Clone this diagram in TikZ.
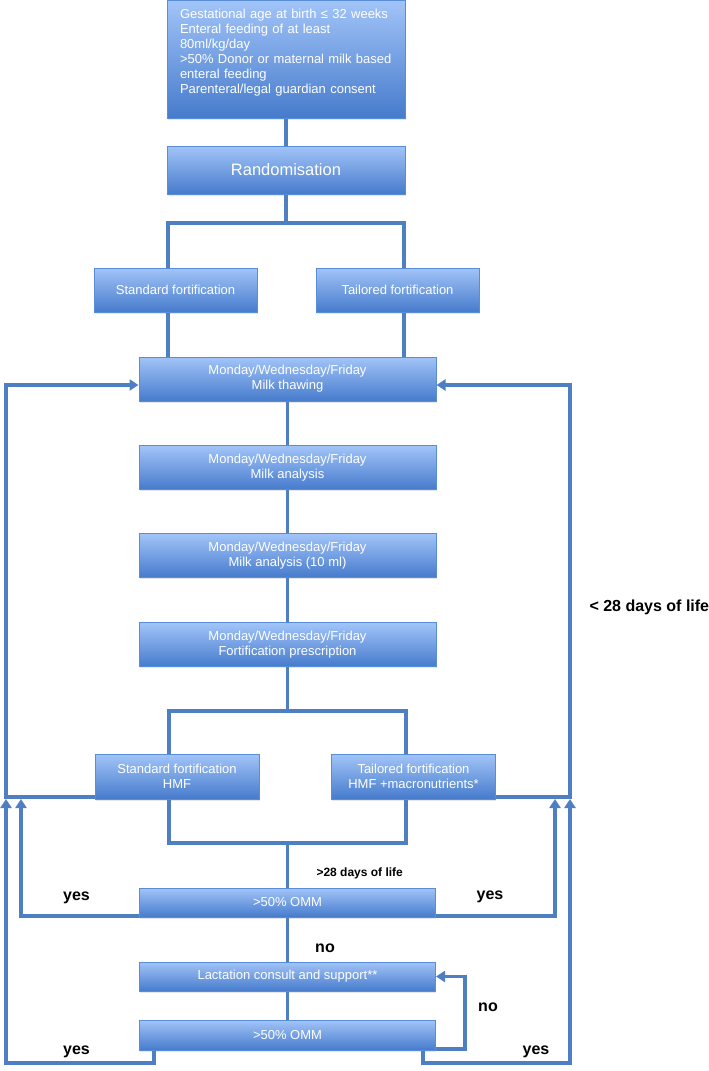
\documentclass[tikz,border=0pt]{standalone}
\usepackage{fontspec}
\setmainfont{Liberation Sans}
\usetikzlibrary{arrows.meta,shadows}
\definecolor{boxtop}{HTML}{A2C4F8}
\definecolor{boxbot}{HTML}{467BCC}
\definecolor{boxline}{HTML}{5A8DD8}
\definecolor{flow}{HTML}{4F7FC3}

\begin{document}
\begin{tikzpicture}[x=1pt,y=-1pt,
    box/.style={draw=boxline,line width=1pt,top color=boxtop,bottom color=boxbot,
        text=white,font=\fontsize{13}{15}\selectfont,align=center,inner sep=0pt,
        drop shadow={opacity=0.2,shadow xshift=0.8pt,shadow yshift=-1.5pt}},
    link/.style={draw=flow,line width=3.4pt},
    arrow/.style={link,-{Triangle[length=9pt,width=11pt]}},
    tag/.style={font=\bfseries\fontsize{16}{18}\selectfont}]

\useasboundingbox (0,0) rectangle (709,1071);

%========================
% Inclusion and randomisation
%========================

\node[box,minimum width=238pt,minimum height=118pt,text width=212pt,align=left] (incl) at (286,59)
{Gestational age at birth ≤ 32 weeks\\
Enteral feeding of at least\\
80ml/kg/day\\
>50\% Donor or maternal milk based\\
enteral feeding\\
Parenteral/legal guardian consent\\[0pt]\hbox{}};

\node[box,minimum width=238pt,minimum height=48pt,font=\fontsize{16.5}{18}\selectfont] (rand) at (286,170) {Randomisation};

\draw[link] (incl) -- (rand);

% the two arms
\node[box,minimum width=163pt,minimum height=44pt] (std1) at (175.5,290) {Standard fortification};
\node[box,minimum width=163pt,minimum height=44pt] (tai1) at (397.5,290) {Tailored fortification};

\coordinate (s1L) at (168,223);
\coordinate (s1R) at (404,223);
\draw[link] (rand) -- (rand |- s1L);
\draw[link] (std1.north -| s1L) -- (s1L) -- (s1R) -- (tai1.north -| s1R);

%========================
% Monday/Wednesday/Friday steps
%========================

\foreach \name/\y/\txt in {thaw/379/Milk thawing,
                           anal/467.5/Milk analysis,
                           anal10/555.5/Milk analysis (10 ml),
                           presc/644.5/Fortification prescription}
{
    \node[box,minimum width=297pt,minimum height=44pt] (\name) at (287.5,\y) {Monday/Wednesday/Friday\\\txt};
}

\draw[link] (std1.south -| s1L) -- (thaw.north -| s1L);
\draw[link] (tai1.south -| s1R) -- (thaw.north -| s1R);

\foreach \a/\b in {thaw/anal,anal/anal10,anal10/presc}
{
    \draw[link] (\a) -- (\b);
}

%========================
% Fortification
%========================

\node[box,minimum width=164pt,minimum height=45pt] (std2) at (177,776.5) {Standard fortification\\HMF};
\node[box,minimum width=164pt,minimum height=45pt] (tai2) at (413.5,776.5) {Tailored fortification\\HMF +macronutrients*};

\coordinate (s2L) at (169,711);
\coordinate (s2R) at (406,711);
\draw[link] (presc) -- (presc |- s2L);
\draw[link] (std2.north -| s2L) -- (s2L) -- (s2R) -- (tai2.north -| s2R);

\coordinate (m2L) at (169,843);
\coordinate (m2R) at (406,843);
\draw[link] (std2.south -| m2L) -- (m2L) -- (m2R) -- (tai2.south -| m2R);

% back to milk thawing
\coordinate (backL) at (6,797);
\coordinate (backR) at (570,797);
\draw[arrow] (std2.south west |- backL) -- (backL) |- ([yshift=-6pt]thaw.west);
\draw[arrow] (tai2.south east |- backR) -- (backR) |- ([yshift=-6pt]thaw.east);

\node[tag,anchor=west] (lt28) at (586,607) {< 28 days of life};

%========================
% After 28 days
%========================

\node[box,minimum width=296pt,minimum height=29pt] (omm1) at (287.5,902.5) {>50\% OMM};
\node[box,minimum width=296pt,minimum height=29pt] (lact) at (287.5,976.5) {Lactation consult and support**};
\node[box,minimum width=296pt,minimum height=30pt] (omm2) at (287.5,1035) {>50\% OMM};

\draw[link] (omm1) -- (omm1 |- m2L);
\draw[link] (omm1) -- (lact);
\draw[link] (lact) -- (omm2);

\node[font=\bfseries\fontsize{12}{14}\selectfont,anchor=west] (gt28) at (313,873) {>28 days of life};

% yes loops
\coordinate (y1L) at (21,916);
\coordinate (y1R) at (555,916);
\draw[arrow] (omm1.south west |- y1L) -- (y1L) -- ([yshift=-2pt]y1L |- backL);
\draw[arrow] (omm1.south east |- y1R) -- (y1R) -- ([yshift=-2pt]y1R |- backR);

\coordinate (y2L) at (6,1063);
\coordinate (y2R) at (570,1063);
\draw[arrow] ([xshift=15pt]omm2.south west) -- ([xshift=15pt]omm2.south west |- y2L) -- (y2L) -- ([yshift=-2pt]y2L |- backL);
\draw[arrow] ([xshift=-13pt]omm2.south east) -- ([xshift=-13pt]omm2.south east |- y2R) -- (y2R) -- ([yshift=-2pt]y2R |- backR);

% no loop
\coordinate (noR) at (465,1049);
\draw[arrow] (omm2.east |- noR) -- (noR) |- (lact.east);

% labels
\node[tag] (yes1L) at (76.5,898) {yes};
\node[tag] (yes1R) at (490,897) {yes};
\node[tag] (no1) at (325,948) {no};
\node[tag] (no2) at (488,1007) {no};
\node[tag] (yes2L) at (76.5,1052) {yes};
\node[tag] (yes2R) at (536,1052) {yes};

\end{tikzpicture}
\end{document}
